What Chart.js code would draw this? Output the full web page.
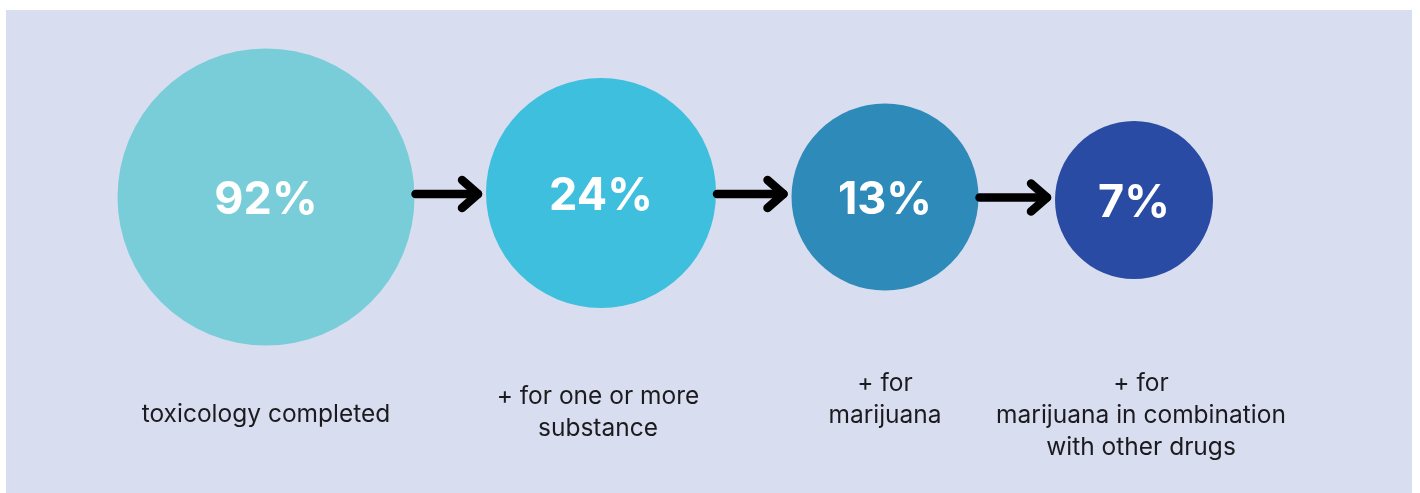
<!DOCTYPE html>
<html>
<head>
<meta charset="utf-8">
<script src="https://cdn.jsdelivr.net/npm/chart.js@4.4.1/dist/chart.umd.min.js"></script>
<style>
  html, body { margin: 0; padding: 0; background: #ffffff; }
  .panel { position: absolute; left: 6px; top: 10px; width: 1406px; height: 483px; background: #d8deef; }
  .wrap { position: absolute; left: 0; top: 0; width: 1420px; height: 493px; }
</style>
</head>
<body>
<div class="panel"></div>
<div class="wrap"><canvas id="funnel" width="1420" height="493"></canvas></div>
<script>
// funnel steps: share of cases at each stage
const stepValues = [92, 24, 13, 7];
const stepLabels = [
  ['toxicology completed'],
  ['+ for one or more', 'substance'],
  ['+ for', 'marijuana'],
  ['+ for', 'marijuana in combination', 'with other drugs']
];

// layout (canvas pixel units on both axes)
const circleX = [266, 601, 885, 1134];
const circleY = [197, 193, 197, 200];
const circleR = [148.5, 115, 93.5, 79];
const circleColors = ['#78cdd9', '#3dbfdd', '#2e8bb9', '#2a4ba3'];
const labelTopY = [415, 397, 384, 384];
const labelShiftX = [0, -3, 0, 7];

const points = stepValues.map((v, i) => ({ x: circleX[i], y: circleY[i], r: circleR[i], v }));

const overlayPlugin = {
  id: 'overlay',
  afterDatasetsDraw(chart) {
    const ctx = chart.ctx;
    const els = chart.getDatasetMeta(0).data;
    ctx.save();

    // arrows between neighbouring circles
    ctx.strokeStyle = '#000000';
    ctx.lineWidth = 8.5;
    ctx.lineCap = 'round';
    ctx.lineJoin = 'round';
    for (let i = 0; i < els.length - 1; i++) {
      const a = els[i], b = els[i + 1];
      const x0 = a.x + circleR[i] + 1;
      const x1 = b.x - circleR[i + 1] - 8;
      const y = (a.y + b.y) / 2 - 1;
      ctx.beginPath();
      ctx.moveTo(x0, y);
      ctx.lineTo(x1, y);
      ctx.stroke();
      ctx.beginPath();
      ctx.moveTo(x1 - 16, y - 14);
      ctx.lineTo(x1, y);
      ctx.lineTo(x1 - 16, y + 14);
      ctx.stroke();
    }

    // percentages inside circles
    ctx.fillStyle = '#ffffff';
    ctx.font = 'bold 45px Inter';
    ctx.textAlign = 'center';
    ctx.textBaseline = 'middle';
    els.forEach((el, i) => {
      ctx.fillText(stepValues[i] + '%', el.x, el.y + 3);
    });

    // captions under circles
    ctx.fillStyle = '#1b1b1f';
    ctx.font = '24.5px Inter';
    els.forEach((el, i) => {
      stepLabels[i].forEach((line, j) => {
        ctx.fillText(line, el.x + labelShiftX[i], labelTopY[i] + j * 32);
      });
    });
    ctx.restore();
  }
};

new Chart(document.getElementById('funnel'), {
  type: 'bubble',
  data: {
    datasets: [{
      data: points,
      backgroundColor: circleColors,
      borderWidth: 0,
      hoverRadius: 0,
      clip: false
    }]
  },
  options: {
    responsive: false,
    animation: false,
    layout: { padding: 0, autoPadding: false },
    plugins: { legend: { display: false }, tooltip: { enabled: false } },
    scales: {
      x: { type: 'linear', min: 0, max: 1420, display: false },
      y: { type: 'linear', min: 0, max: 493, reverse: true, display: false }
    }
  },
  plugins: [overlayPlugin]
});
</script>
</body>
</html>
